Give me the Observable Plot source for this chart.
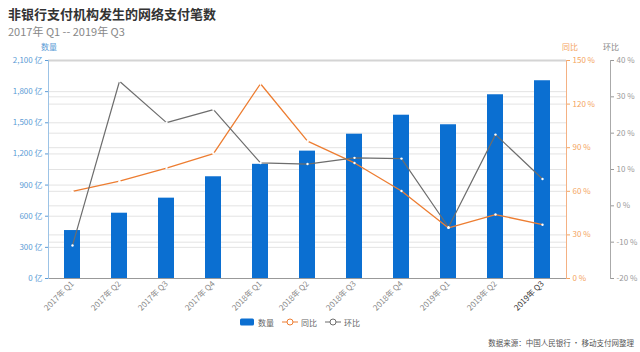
<!DOCTYPE html>
<html><head><meta charset="utf-8">
<script src="https://cdn.jsdelivr.net/npm/d3@7"></script>
<script src="https://cdn.jsdelivr.net/npm/@observablehq/plot@0.6"></script>
<style>
body{margin:0;background:#fff;font-family:"Noto Sans CJK SC","Noto Sans",sans-serif;}
#wrap{position:relative;width:640px;height:352px;overflow:hidden;background:#fff}
#chart{position:absolute;left:0;top:0}
.t{position:absolute;white-space:nowrap;line-height:1}
.lg{position:absolute;top:317px;height:10px;display:flex;align-items:center;font-size:8px;color:#666}
</style></head><body>
<div id="wrap">
<div id="chart"></div>
<div class="t" style="left:8px;top:7px;font-size:13px;font-weight:bold;color:#333">非银行支付机构发生的网络支付笔数</div>
<div class="t" style="left:8px;top:26px;font-size:11px;color:#888">2017年 Q1 -- 2019年 Q3</div>
<div class="t" style="left:41px;top:43px;font-size:8px;color:#5b9bd5">数量</div>
<div class="t" style="left:562px;top:43px;font-size:8px;color:#f4a460">同比</div>
<div class="t" style="left:603px;top:43px;font-size:8px;color:#888">环比</div>
<div class="lg" style="left:240px">
  <svg width="15" height="8"><rect x="0" y="0.5" width="14" height="7" rx="1.5" fill="#0b6fd1"/></svg>
  <span style="margin-left:3px">数量</span>
  <svg width="16" height="8" style="margin-left:8px"><line x1="0" y1="4" x2="16" y2="4" stroke="#ed7d31" stroke-width="1"/><circle cx="8" cy="4" r="3" fill="#fff" stroke="#ed7d31"/></svg>
  <span style="margin-left:3px">同比</span>
  <svg width="16" height="8" style="margin-left:8px"><line x1="0" y1="4" x2="16" y2="4" stroke="#6d6d6d" stroke-width="1"/><circle cx="8" cy="4" r="3" fill="#fff" stroke="#6d6d6d"/></svg>
  <span style="margin-left:3px">环比</span>
</div>
<div class="t" style="right:6px;top:339px;font-size:7.5px;color:#555">数据来源：中国人民银行 • 移动支付网整理</div>
</div>
<script>
const quarters = ["2017年 Q1","2017年 Q2","2017年 Q3","2017年 Q4","2018年 Q1","2018年 Q2","2018年 Q3","2018年 Q4","2019年 Q1","2019年 Q2","2019年 Q3"];
const counts = [462, 629, 774, 980, 1100, 1227, 1390, 1573, 1481, 1770, 1905];
const yoy = [60, 67, 76, 86, 134, 94.5, 79.5, 60.2, 34.8, 44, 37];
const qoq = [-10.9, 34.3, 22.9, 26.5, 11.8, 11.5, 13.2, 13.0, -5.9, 19.6, 7.4];
const leftTicks = [0, 300, 600, 900, 1200, 1500, 1800, 2100];
const yoyTicks = [0, 30, 60, 90, 120, 150];
const qoqTicks = [-20, -10, 0, 10, 20, 30, 40];

// map secondary axes onto the primary y domain [0, 2100]
const fromYoy = v => v * 2100 / 150;
const toYoy = y => Math.round(y * 150 / 2100);
const fromQoq = v => (v + 20) * 2100 / 60;
const toQoq = y => Math.round(y * 60 / 2100 - 20);

const data = quarters.map((q, i) => ({q, count: counts[i], yoy: fromYoy(yoy[i]), qoq: fromQoq(qoq[i])}));

const orange = "#ed7d31", grey = "#6d6d6d", blue = "#0b6fd1";
const grid = [...new Set([...leftTicks, ...yoyTicks.map(fromYoy), ...qoqTicks.map(fromQoq)])];
const last = quarters[quarters.length - 1];

const chart = Plot.plot({
  width: 640, height: 352,
  marginTop: 60, marginBottom: 74, marginLeft: 48, marginRight: 74,
  style: {fontSize: "8px", fontFamily: '"Noto Sans CJK SC","Noto Sans",sans-serif', background: "transparent"},
  x: {domain: quarters, paddingInner: 0.66, paddingOuter: 0.33, label: null},
  y: {domain: [0, 2100], label: null},
  marks: [
    Plot.ruleY(grid, {stroke: "#e3e3e3", strokeWidth: 1}),
    Plot.ruleY([2100], {stroke: "#d4d4d4", strokeWidth: 2}),
    Plot.barY(data, {x: "q", y: "count", fill: blue}),
    Plot.line(data, {x: "q", y: "yoy", stroke: orange, strokeWidth: 1.3}),
    Plot.dot(data, {x: "q", y: "yoy", r: 1.2, fill: "#fff", stroke: null}),
    Plot.line(data, {x: "q", y: "qoq", stroke: grey, strokeWidth: 1.2}),
    Plot.dot(data, {x: "q", y: "qoq", r: 1.2, fill: "#fff", stroke: null}),
    Plot.ruleY([0], {stroke: "#999"}),
    Plot.axisY(leftTicks, {anchor: "left", tickSize: 3, tickPadding: 3, color: "#5b9bd5", tickFormat: d => d3.format(",")(d) + " 亿", label: null}),
    Plot.frame({anchor: "left", stroke: "#9cc3e6"}),
    Plot.axisY(yoyTicks.map(fromYoy), {anchor: "right", tickSize: 3, tickPadding: 3, color: "#f4a460", tickFormat: d => toYoy(d) + " %", label: null}),
    Plot.frame({anchor: "right", stroke: "#f4b183"}),
    Plot.axisY(qoqTicks.map(fromQoq), {anchor: "right", dx: 44, tickSize: 3, tickPadding: 3, color: "#999", tickFormat: d => toQoq(d) + " %", label: null}),
    Plot.frame({anchor: "right", dx: 44, stroke: "#aaa"}),
    Plot.axisX(quarters.slice(0, -1), {anchor: "bottom", tickRotate: -45, tickSize: 0, tickPadding: 4, color: "#888", label: null}),
    Plot.axisX([last], {anchor: "bottom", tickRotate: -45, tickSize: 0, tickPadding: 4, color: "#333", label: null})
  ]
});
document.getElementById("chart").appendChild(chart);
</script>
</body></html>
